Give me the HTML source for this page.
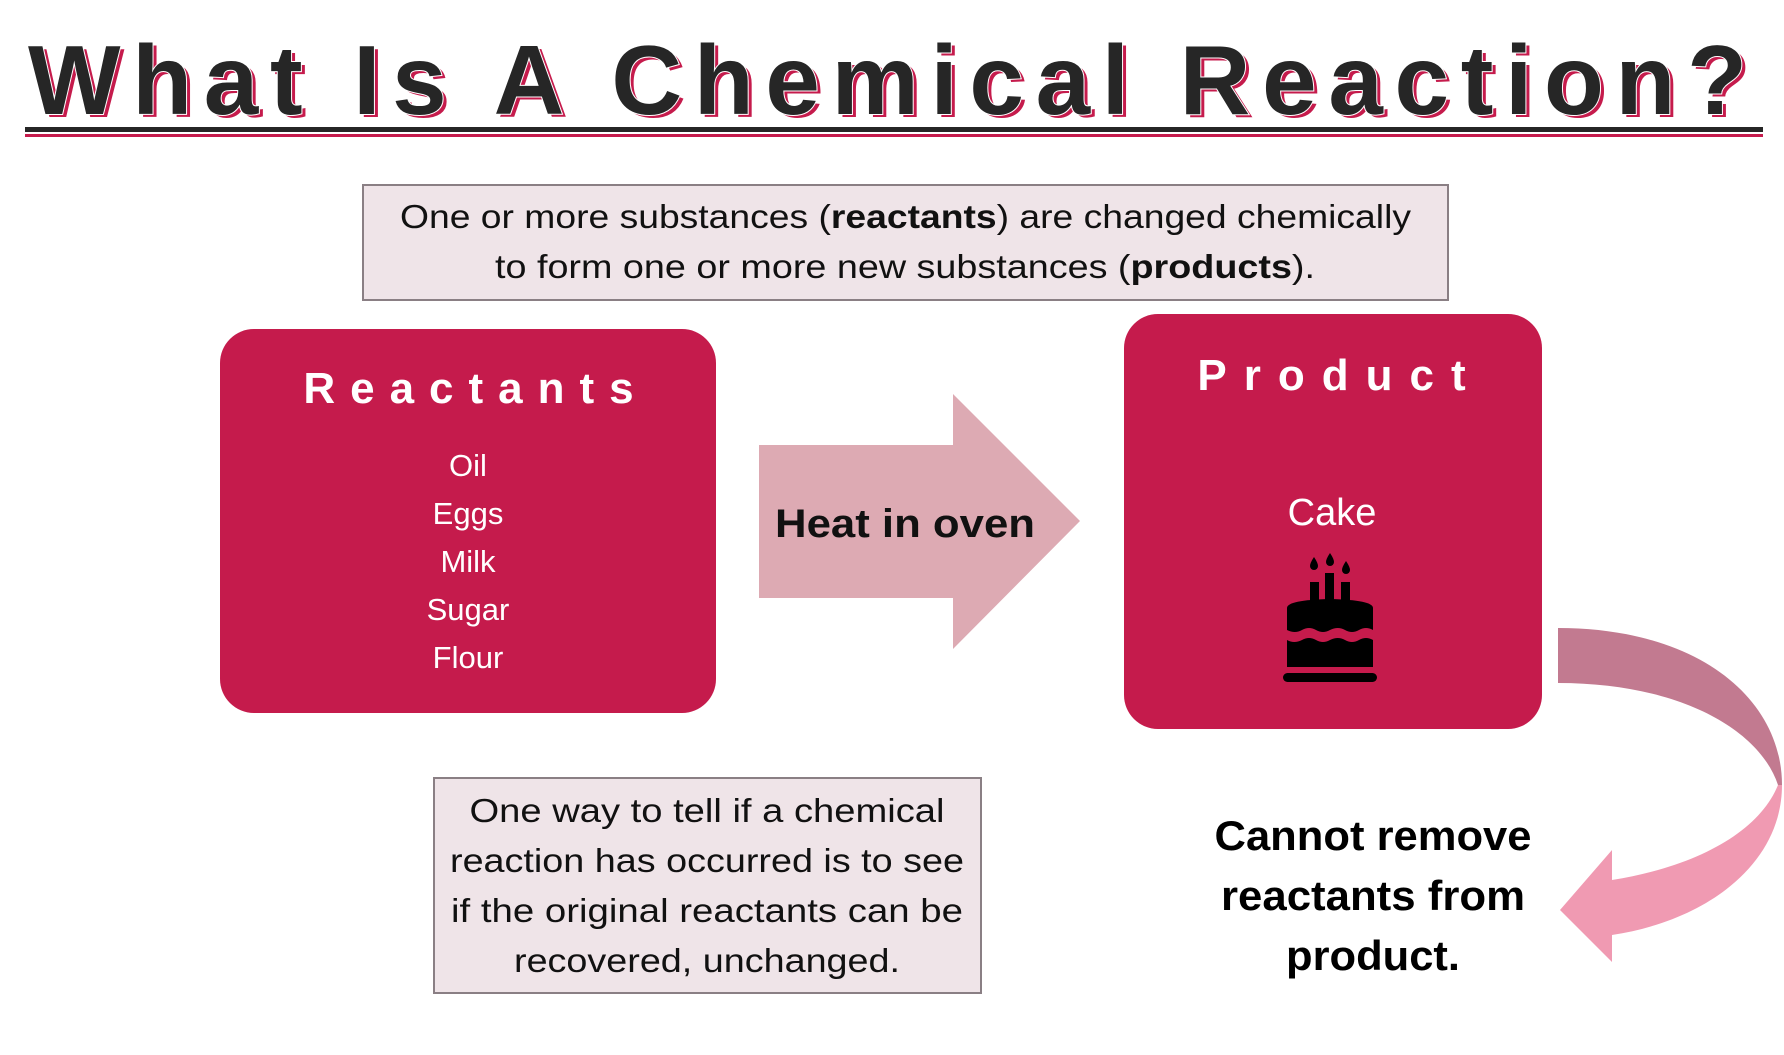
<!DOCTYPE html>
<html><head><meta charset="utf-8"><style>html,body{margin:0;padding:0;background:#fff}svg{display:block}</style></head>
<body>
<svg width="1784" height="1055" viewBox="0 0 1784 1055" xmlns="http://www.w3.org/2000/svg" font-family="'Liberation Sans', sans-serif">
<rect width="1784" height="1055" fill="#fff"/>
<text x="32" y="117" font-size="98" font-weight="bold" fill="#c51b4c" textLength="1719" lengthAdjust="spacing">What Is A Chemical Reaction?</text>
<text x="28" y="114" font-size="98" font-weight="bold" fill="#262626" stroke="#fff" stroke-width="2" paint-order="stroke" textLength="1719" lengthAdjust="spacing">What Is A Chemical Reaction?</text>
<rect x="25" y="127" width="1738" height="5" fill="#262626"/>
<rect x="25" y="134" width="1738" height="3" fill="#c51b4c"/>
<rect x="363" y="185" width="1085" height="115" fill="#efe4e8" stroke="#8a7f84" stroke-width="2"/>
<text x="400" y="228" font-size="33" fill="#111" textLength="1011" lengthAdjust="spacingAndGlyphs">One or more substances (<tspan font-weight="bold">reactants</tspan>) are changed chemically</text>
<text x="495" y="278" font-size="33" fill="#111" textLength="820" lengthAdjust="spacingAndGlyphs">to form one or more new substances (<tspan font-weight="bold">products</tspan>).</text>
<rect x="220" y="329" width="496" height="384" rx="34" fill="#c51b4c"/>
<text x="476" y="403" font-size="44" font-weight="bold" fill="#fff" text-anchor="middle" letter-spacing="15">Reactants</text>
<g font-size="31" fill="#fff" text-anchor="middle">
<text x="468" y="476">Oil</text>
<text x="468" y="524">Eggs</text>
<text x="468" y="572">Milk</text>
<text x="468" y="620">Sugar</text>
<text x="468" y="668">Flour</text>
</g>
<polygon points="759,445 953,445 953,394 1080,521 953,649 953,598 759,598" fill="#ddaab3"/>
<text x="905" y="537" font-size="40" font-weight="bold" fill="#111" text-anchor="middle" textLength="260" lengthAdjust="spacingAndGlyphs">Heat in oven</text>
<rect x="1124" y="314" width="418" height="415" rx="34" fill="#c51b4c"/>
<text x="1340" y="390" font-size="44" font-weight="bold" fill="#fff" text-anchor="middle" letter-spacing="17">Product</text>
<text x="1332" y="525" font-size="38" fill="#fff" text-anchor="middle">Cake</text>
<g fill="#000">
<path d="M1314,557 q-4,6 -4,9 a4,4 0 0 0 8,0 q0,-3 -4,-9z"/>
<path d="M1330,553 q-4,6 -4,9 a4,4 0 0 0 8,0 q0,-3 -4,-9z"/>
<path d="M1346,561 q-4,6 -4,9 a4,4 0 0 0 8,0 q0,-3 -4,-9z"/>
<rect x="1310" y="582" width="9" height="20"/>
<rect x="1325" y="573" width="9" height="29"/>
<rect x="1341" y="582" width="9" height="20"/>
<path d="M1287,608 q0,-8 43,-9 q43,1 43,9 v22 q-7,-4 -14,0 q-7,4 -14,0 q-7,-4 -15,0 q-7,4 -14,0 q-7,-4 -14,0 q-7,4 -15,0z"/>
<path d="M1287,640 q7,4 15,0 q7,-4 14,0 q7,4 14,0 q8,-4 15,0 q7,4 14,0 q7,-4 14,0 v27 h-86z"/>
<rect x="1283" y="673" width="94" height="9" rx="4.5"/>
</g>
<path d="M1558,628 C1700,628 1782,700 1782,785 L1778,785 C1760,730 1680,683 1558,683 Z" fill="#c27a90"/>
<path d="M1782,785 C1782,862 1710,920 1612,935 L1612,962 L1560,910 L1612,850 L1612,880 C1700,866 1760,830 1778,785 Z" fill="#f09ab2"/>
<rect x="434" y="778" width="547" height="215" fill="#efe4e8" stroke="#8a7f84" stroke-width="2"/>
<g font-size="33" fill="#111" text-anchor="middle">
<text x="707" y="822" textLength="475" lengthAdjust="spacingAndGlyphs">One way to tell if a chemical</text>
<text x="707" y="872" textLength="514" lengthAdjust="spacingAndGlyphs">reaction has occurred is to see</text>
<text x="707" y="922" textLength="512" lengthAdjust="spacingAndGlyphs">if the original reactants can be</text>
<text x="707" y="972" textLength="386" lengthAdjust="spacingAndGlyphs">recovered, unchanged.</text>
</g>
<g font-size="42" font-weight="bold" fill="#000" text-anchor="middle">
<text x="1373" y="850" textLength="317" lengthAdjust="spacingAndGlyphs">Cannot remove</text>
<text x="1373" y="910" textLength="304" lengthAdjust="spacingAndGlyphs">reactants from</text>
<text x="1373" y="970" textLength="174" lengthAdjust="spacingAndGlyphs">product.</text>
</g>
</svg>
</body></html>
